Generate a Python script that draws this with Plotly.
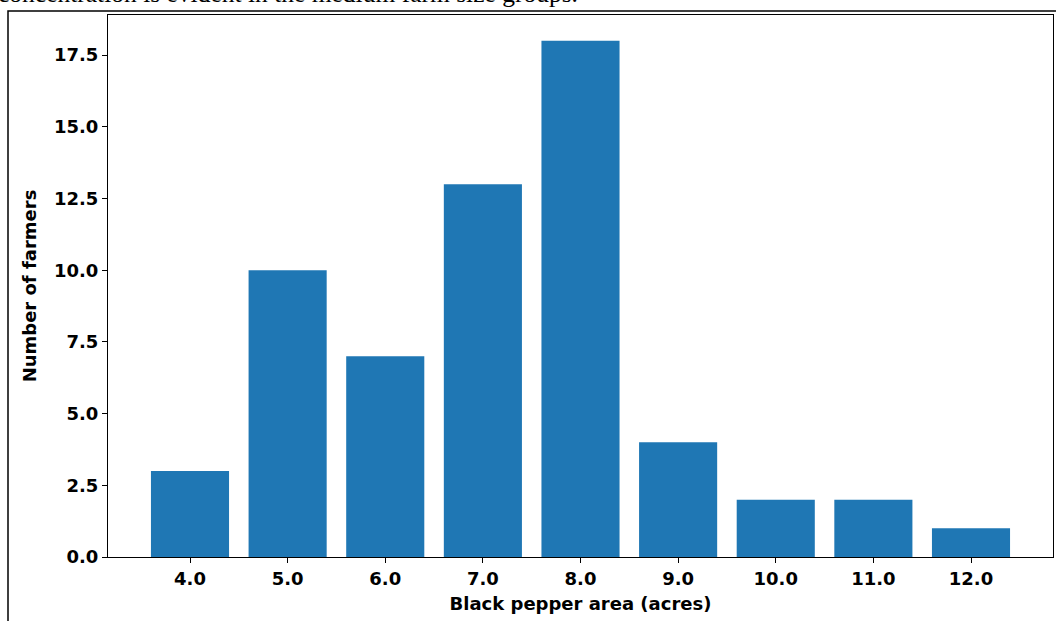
import plotly.graph_objects as go

areas = [4.0, 5.0, 6.0, 7.0, 8.0, 9.0, 10.0, 11.0, 12.0]
area_labels = ["4.0", "5.0", "6.0", "7.0", "8.0", "9.0", "10.0", "11.0", "12.0"]
farmers = [3, 10, 7, 13, 18, 4, 2, 2, 1]
y_ticks = [0, 2.5, 5.0, 7.5, 10.0, 12.5, 15.0, 17.5]
y_tick_labels = ["0.0", "2.5", "5.0", "7.5", "10.0", "12.5", "15.0", "17.5"]

W, H = 1056, 621
L, R, T, B = 108, 1053, 15, 557  # plot area in pixels
pw, ph = R - L, B - T

def px_x(x):
    return (x - L) / pw

def px_y(y):
    return (B - y) / ph

fig = go.Figure()
fig.add_trace(go.Bar(
    x=areas, y=farmers, width=0.8,
    marker=dict(color="#1f77b4", line=dict(width=0)),
))

tick_font = dict(family="DejaVu Sans", size=18, color="black", weight="bold")
title_font = dict(family="DejaVu Sans", size=18, color="black", weight="bold")

fig.update_layout(
    width=W, height=H,
    margin=dict(l=L, r=W - R, t=T, b=H - B, autoexpand=False),
    paper_bgcolor="white", plot_bgcolor="white",
    showlegend=False,
    xaxis=dict(
        range=[3.16, 12.84],
        tickvals=areas, ticktext=area_labels,
        ticks="outside", ticklen=5, tickwidth=1, tickcolor="black",
        showline=True, linecolor="black", linewidth=1, mirror=True,
        showgrid=False, zeroline=False,
        tickfont=tick_font,
        title=dict(text="Black pepper area (acres)", font=title_font, standoff=9),
    ),
    yaxis=dict(
        range=[0, 18.9],
        tickvals=y_ticks, ticktext=y_tick_labels,
        ticks="outside", ticklen=5, tickwidth=1, tickcolor="black",
        showline=True, linecolor="black", linewidth=1, mirror=True,
        showgrid=False, zeroline=False,
        tickfont=tick_font,
        title=dict(text="Number of farmers", font=title_font, standoff=12),
    ),
    shapes=[dict(
        type="rect", xref="paper", yref="paper",
        x0=px_x(8), x1=px_x(1062), y0=px_y(630), y1=px_y(11),
        line=dict(color="black", width=1.5), fillcolor="rgba(0,0,0,0)",
        layer="above",
    )],
    annotations=[dict(
        text="concentration is evident in the medium farm size groups.",
        xref="paper", yref="paper", x=px_x(-4), y=px_y(10),
        xanchor="left", yanchor="bottom", showarrow=False,
        font=dict(family="Liberation Serif", size=25.5, color="black"),
    )],
)

fig.write_html(
    "out.html",
    config={"displayModeBar": False},
    post_script="document.body.style.margin='0';document.body.style.overflow='hidden';",
)
